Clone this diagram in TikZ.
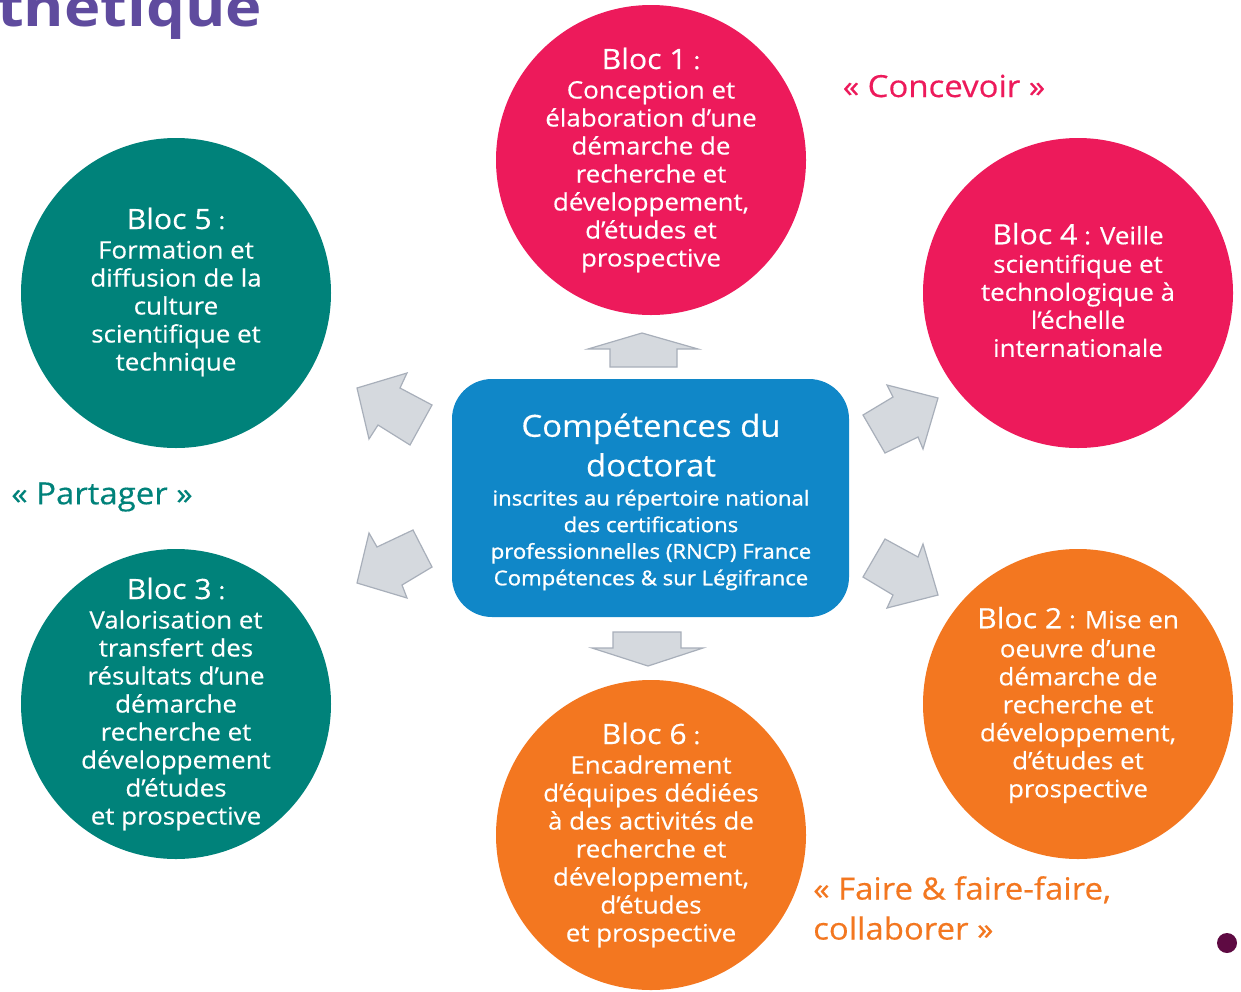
\documentclass[tikz,border=0pt]{standalone}
\usepackage{fontspec}
\setmainfont{Open Sans}[FakeStretch=1.08, FakeBold=0.35]
\newfontfamily\semib{Open Sans}[FakeBold=1.1, FakeStretch=1.08]
\newfontfamily\ttlfont{Open Sans Bold}[FakeStretch=1.14]
\newcommand\bigbl{\fontsize{28}{30}\selectfont}
\definecolor{mag}{HTML}{ED1A5B}
\definecolor{tea}{HTML}{00827A}
\definecolor{org}{HTML}{F37720}
\definecolor{blu}{HTML}{1087C8}
\definecolor{purp}{HTML}{5F4B9E}
\definecolor{agray}{HTML}{D5D9DE}
\definecolor{agrayl}{HTML}{A8AFBA}
\definecolor{dotc}{HTML}{5E0A42}
\tikzset{
  disc/.style={circle, inner sep=0pt, minimum size=310pt},
  bt/.style={text=white, align=center, inner sep=0pt, font=\fontsize{24}{28}\selectfont},
  arr/.style={fill=agray, draw=agrayl, line width=1.2pt, line join=miter},
  lab/.style={inner sep=0pt, font=\fontsize{30.5}{40}\selectfont}
}
\begin{document}
\begin{tikzpicture}[x=1pt,y=-1pt]
\useasboundingbox (0,0) rectangle (1241,991);
\fill[white] (0,0) rectangle (1241,991);
% title fragment
\node[anchor=base west, text=purp, inner sep=0pt, font=\ttlfont\fontsize{54}{60}\selectfont] (ttl) at (-3,26) {thétique};
% circles
\node[disc, fill=mag] (b1) at (651,160) {};
\node[disc, fill=mag] (b4) at (1078,293) {};
\node[disc, fill=tea] (b5) at (176,293) {};
\node[disc, fill=tea] (b3) at (176,704) {};
\node[disc, fill=org] (b2) at (1078,704) {};
\node[disc, fill=org] (b6) at (651,835) {};
% central box
\node[rounded corners=40pt, fill=blu, minimum width=397pt, minimum height=238pt, inner sep=0pt] (c) at (650.5,498) {};
\node[text=white, align=center, inner sep=0pt, font=\fontsize{30.5}{39.5}\selectfont] (ct) at (651,445) {Compétences du\\doctorat};
\node[text=white, align=center, inner sep=0pt, font=\semib\fontsize{20.5}{26.6}\selectfont] (cs) at (651,540) {inscrites au répertoire national\\des certifications\\professionnelles (RNCP) France\\Compétences \& sur Légifrance};
% texts
\node[bt] (t1) at (651,160) {{\bigbl Bloc 1} :\\[1.5pt] Conception et\\élaboration d’une\\démarche de\\recherche et\\développement,\\d’études et\\prospective};
\node[bt] (t4) at (1078,290) {{\bigbl Bloc 4} : Veille\\[0.5pt] scientifique et\\technologique à\\l’échelle\\internationale};
\node[bt] (t5) at (176,292) {{\bigbl Bloc 5} :\\[1.5pt] Formation et\\diffusion de la\\culture\\scientifique et\\technique};
\node[bt] (t3) at (176,704) {{\bigbl Bloc 3} :\\[1.5pt] Valorisation et\\transfert des\\résultats d’une\\démarche\\recherche et\\développement\\d’études\\et prospective};
\node[bt] (t2) at (1078,705) {{\bigbl Bloc 2} : Mise en\\[1pt] oeuvre d’une\\démarche de\\recherche et\\développement,\\d’études et\\prospective};
\node[bt] (t6) at (651,835) {{\bigbl Bloc 6} :\\[1.5pt] Encadrement\\d’équipes dédiées\\à des activités de\\recherche et\\développement,\\d’études\\et prospective};
% labels
\node[lab, text=mag] (lc) at (944,86) {« Concevoir »};
\node[lab, text=tea] (lp) at (102,497) {« Partager »};
\node[lab, text=org, anchor=west, align=left] (lf) at (813,908) {« Faire \& faire-faire,\\collaborer »};
% arrows
\draw[arr] (642,333) -- (698,349) -- (677,349) -- (677,367) -- (610,367) -- (610,349) -- (588,349) -- cycle;
\draw[arr] (648,666) -- (703,648) -- (681,648) -- (681,632) -- (613,632) -- (613,648) -- (592,648) -- cycle;
\draw[arr] (357,388) -- (407,373) -- (400,388) -- (432,405) -- (410,445) -- (378,425) -- (369,439) -- cycle;
\draw[arr] (357,583) -- (369,533) -- (377,547) -- (413,530) -- (432,567) -- (402,585) -- (407,598) -- cycle;
\draw[arr] (938,398) -- (887,385) -- (893,397) -- (863,415) -- (885,453) -- (918,437) -- (923,449) -- cycle;
\draw[arr] (938,595) -- (923,544) -- (918,557) -- (885,539) -- (863,577) -- (893,595) -- (887,608) -- cycle;
% dot
\node[circle, fill=dotc, inner sep=0pt, minimum size=20pt] (dot) at (1227,943) {};
\end{tikzpicture}
\end{document}
